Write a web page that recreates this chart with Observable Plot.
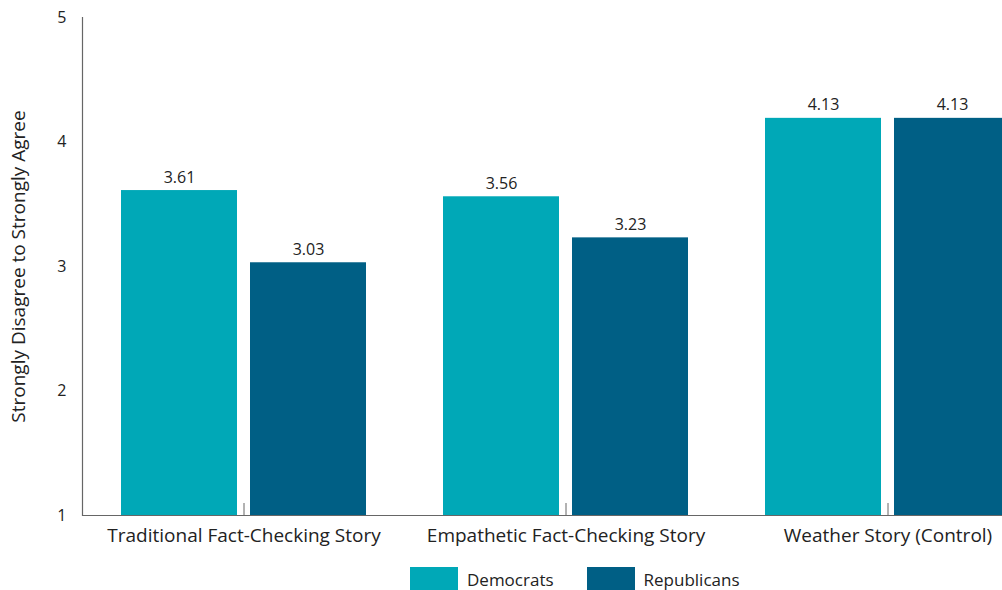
<!DOCTYPE html>
<html><head><meta charset="utf-8">
<script src="https://cdn.jsdelivr.net/npm/d3@7"></script>
<script src="https://cdn.jsdelivr.net/npm/@observablehq/plot@0.6"></script>
<style>
body{margin:0;background:#fff;overflow:hidden;}
#wrap{width:1002px;overflow:hidden;}
#wrap svg{display:block;max-width:none !important;width:1048px;height:550px;}
.legend{display:flex;align-items:center;margin-left:410px;margin-top:17px;font:17px "Open Sans", sans-serif;color:#222;}
.item{display:flex;align-items:center;margin-right:33px;}
.sw{width:48px;height:24px;margin-right:9px;}
</style></head><body>
<div id="wrap"></div>
<div class="legend" id="legend"></div>
<script>
const stories = ["Traditional Fact-Checking Story", "Empathetic Fact-Checking Story", "Weather Story (Control)"];
const parties = ["Democrats", "Republicans"];
const democrats = [3.61, 3.56, 4.19];
const republicans = [3.03, 3.23, 4.19];
const demLabels = ["3.61", "3.56", "4.13"];
const repLabels = ["3.03", "3.23", "4.13"];
const yTicks = [1, 2, 3, 4, 5];
const colors = ["#00a8b7", "#005f85"];
const yTitle = "Strongly Disagree to Strongly Agree";

const demRows = stories.map((s, i) => ({story: s, value: democrats[i], label: demLabels[i]}));
const repRows = stories.map((s, i) => ({story: s, value: republicans[i], label: repLabels[i]}));

const chart = Plot.plot({
  width: 1048, height: 550,
  marginLeft: 82, marginRight: 0, marginTop: 17, marginBottom: 35,
  style: {fontFamily: "'Open Sans', sans-serif", color: "#222", background: "#fff"},
  x: {domain: stories, paddingInner: 0.24, paddingOuter: 0.118, label: null},
  y: {domain: [yTicks[0], yTicks[yTicks.length - 1]], label: null},
  marks: [
    Plot.barY(demRows, {x: "story", y1: yTicks[0], y2: "value", fill: colors[0], insetRight: 129}),
    Plot.barY(repRows, {x: "story", y1: yTicks[0], y2: "value", fill: colors[1], insetLeft: 129}),
    Plot.text(demRows, {x: "story", y: "value", text: "label", dx: -64.5, dy: -13, fontSize: 16, fill: "#222"}),
    Plot.text(repRows, {x: "story", y: "value", text: "label", dx: 64.5, dy: -13, fontSize: 16, fill: "#222"}),
    Plot.ruleX(stories, {x: d => d, insetTop: 486, stroke: "#666"}),
    Plot.ruleY([yTicks[0]], {stroke: "#666", strokeWidth: 1.2}),
    Plot.frame({anchor: "left", stroke: "#666", strokeWidth: 1.2}),
    Plot.axisY({ticks: yTicks, tickFormat: d3.format("d"), tickSize: 0, tickPadding: 16, fontSize: 16,
      label: yTitle, labelAnchor: "center", labelArrow: false, labelOffset: 71}),
    Plot.axisX({tickSize: 0, tickPadding: 13, fontSize: 19, label: null})
  ]
});
document.getElementById("wrap").appendChild(chart);
chart.querySelectorAll("text").forEach(el => {
  if (el.textContent === yTitle) {
    el.setAttribute("font-size", 19);
    el.style.fontSize = "19px";
  }
});

const legend = document.getElementById("legend");
parties.forEach((p, i) => {
  const item = document.createElement("div");
  item.className = "item";
  const sw = document.createElement("div");
  sw.className = "sw";
  sw.style.background = colors[i];
  const t = document.createElement("span");
  t.textContent = p;
  item.appendChild(sw); item.appendChild(t);
  legend.appendChild(item);
});
</script>
</body></html>
